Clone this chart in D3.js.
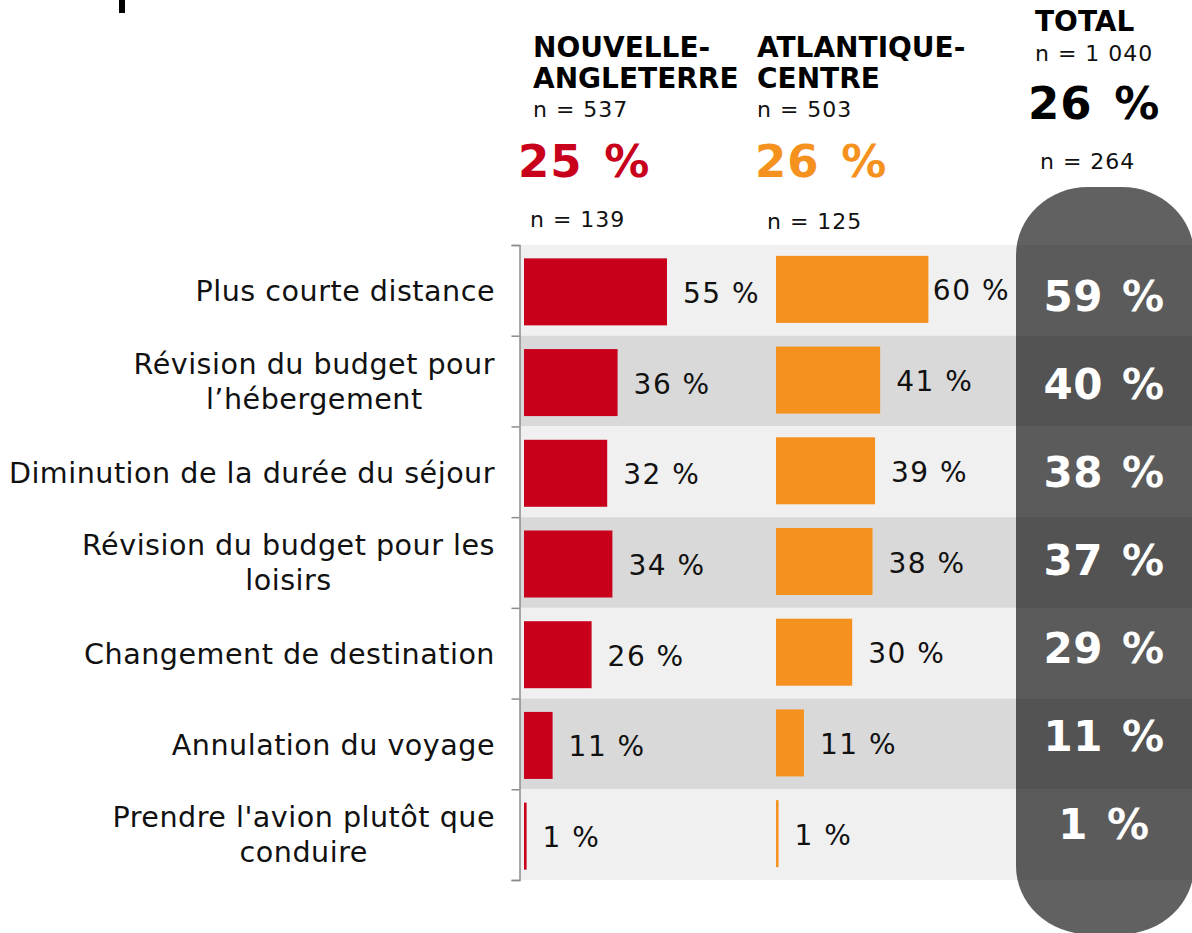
<!DOCTYPE html>
<html lang="fr">
<head>
<meta charset="utf-8">
<script src="https://cdn.jsdelivr.net/npm/d3@7"></script>
<style>
  html, body { margin: 0; padding: 0; background: #ffffff; }
  svg { display: block; font-family: "DejaVu Sans", Verdana, sans-serif; }
</style>
</head>
<body>
<svg id="chart" width="1192" height="933"></svg>
<script>
// Motifs de changement des plans de voyage, par région
const categories = [
  ["Plus courte distance"],
  ["Révision du budget pour", "l’hébergement"],
  ["Diminution de la durée du séjour"],
  ["Révision du budget pour les", "loisirs"],
  ["Changement de destination"],
  ["Annulation du voyage"],
  ["Prendre l'avion plutôt que", "conduire"]
];
const nouvelleAngleterre = [55, 36, 32, 34, 26, 11, 1];
const atlantiqueCentre   = [60, 41, 39, 38, 30, 11, 1];
const total              = [59, 40, 38, 37, 29, 11, 1];

const regions = [
  { title: ["NOUVELLE-", "ANGLETERRE"], n: "n = 537", share: 25, nSub: "n = 139" },
  { title: ["ATLANTIQUE-", "CENTRE"],   n: "n = 503", share: 26, nSub: "n = 125" }
];
const totalHeader = { title: "TOTAL", n: "n = 1 040", share: 26, nSub: "n = 264" };

const RED = "#c8001b", ORANGE = "#f5921f";
const pct = v => v + " %";

// Large percentage: number, then the sign pushed a little further right
function bigPct(sel, v, gap) {
  sel.append("tspan").text(v);
  sel.append("tspan").attr("dx", gap).text(" %");
}

const svg = d3.select("#chart");
const keys = categories.map((c, i) => i);

// Scales
const y = d3.scaleBand().domain(keys).range([245, 880]);
const yTotal = d3.scaleBand().domain(keys).range([251.5, 868]);
const yAxisScale = d3.scaleLinear().domain([0, keys.length]).range([245, 880]);
const xNE = d3.scaleLinear().domain([0, 100]).range([524, 784]);
const xAC = d3.scaleLinear().domain([0, 100]).range([776, 1030]);
const barH = 67;
const pillX = 1016;

// Alternating row bands
svg.append("g").selectAll("rect").data(keys).join("rect")
  .attr("x", 520).attr("width", 1192 - 520)
  .attr("y", d => y(d)).attr("height", y.bandwidth())
  .attr("fill", d => d % 2 === 0 ? "#f0f0f0" : "#d9d9d9");

// Category axis with ticks at band boundaries
const axis = svg.append("g").attr("transform", "translate(519.5,0)")
  .call(d3.axisLeft(yAxisScale).tickValues(d3.range(keys.length + 1))
    .tickSize(8).tickSizeOuter(8).tickFormat(""));
axis.selectAll("path, line").attr("stroke", "#8c8c8c").attr("stroke-width", 1.5);

// Category labels (multi-line labels centred on their widest line)
const labels = svg.append("g").attr("font-size", 28.6).attr("fill", "#111")
  .attr("letter-spacing", 0.5);
categories.forEach((lines, i) => {
  const cy = y(i) + y.bandwidth() / 2;
  const lh = 35;
  const t = labels.append("text");
  lines.forEach((ln, j) => {
    t.append("tspan").text(ln)
      .attr("y", cy + (lines.length === 1 ? 11 : 10) + (j - (lines.length - 1) / 2) * lh);
  });
  const widths = [];
  t.selectAll("tspan").each(function () { widths.push(this.getComputedTextLength()); });
  const maxW = d3.max(widths);
  if (lines.length === 1) {
    t.attr("text-anchor", "end").selectAll("tspan").attr("x", 495);
  } else {
    t.attr("text-anchor", "middle").selectAll("tspan").attr("x", 495 - maxW / 2);
  }
});

// Bars with value labels (labels kept clear of the total column)
function drawSeries(values, x, color, dy, labelDy) {
  const g = svg.append("g");
  g.selectAll("rect").data(values).join("rect")
    .attr("x", x(0))
    .attr("y", (d, i) => y(i) + (y.bandwidth() - barH) / 2 + dy)
    .attr("width", d => x(d) - x(0))
    .attr("height", barH)
    .attr("fill", color);
  g.selectAll("text").data(values).join("text")
    .attr("y", (d, i) => y(i) + y.bandwidth() / 2 + labelDy)
    .attr("font-size", 28).attr("letter-spacing", 1.5).attr("fill", "#111")
    .text(d => pct(d))
    .attr("x", function (d) {
      const w = this.getComputedTextLength();
      return Math.min(x(d) + 16, pillX - 6 - w);
    });
}
drawSeries(nouvelleAngleterre, xNE, RED, 1.5, 12.5);
drawSeries(atlantiqueCentre, xAC, ORANGE, -1, 10);

// Total column
svg.append("rect")
  .attr("x", pillX).attr("y", 187).attr("width", 178).attr("height", 747)
  .attr("rx", 72).attr("ry", 68)
  .attr("fill", "#000").attr("fill-opacity", 0.62);
svg.append("g").selectAll("text").data(total).join("text")
  .attr("x", 1104)
  .attr("y", (d, i) => yTotal(i) + yTotal.bandwidth() / 2 + 15)
  .attr("text-anchor", "middle")
  .attr("font-size", 42).attr("font-weight", "bold").attr("letter-spacing", 0.5)
  .attr("fill", "#fff")
  .each(function (d) { bigPct(d3.select(this), d, 4); });

// Region headers
const headerX = [533, 757];
const shareX = [518, 755];
const subX = [530, 767];
const colors = [RED, ORANGE];
regions.forEach((r, i) => {
  const g = svg.append("g");
  r.title.forEach((t, j) => {
    g.append("text").attr("x", headerX[i]).attr("y", 57 + j * 31)
      .attr("font-size", 28).attr("font-weight", "bold")
      .attr("fill", "#000").text(t);
  });
  g.append("text").attr("x", headerX[i]).attr("y", 117)
    .attr("font-size", 22).attr("letter-spacing", 1).attr("fill", "#111").text(r.n);
  g.append("text").attr("x", shareX[i]).attr("y", 177)
    .attr("font-size", 45).attr("font-weight", "bold").attr("letter-spacing", 1)
    .attr("fill", colors[i])
    .call(s => bigPct(s, r.share, 5));
  g.append("text").attr("x", subX[i]).attr("y", 227 + i * 2)
    .attr("font-size", 22).attr("letter-spacing", 1).attr("fill", "#111").text(r.nSub);
});

const th = svg.append("g");
th.append("text").attr("x", 1035).attr("y", 31)
  .attr("font-size", 28).attr("font-weight", "bold")
  .attr("fill", "#000").text(totalHeader.title);
th.append("text").attr("x", 1035).attr("y", 61)
  .attr("font-size", 22).attr("letter-spacing", 1).attr("fill", "#111").text(totalHeader.n);
th.append("text").attr("x", 1028).attr("y", 119)
  .attr("font-size", 45).attr("font-weight", "bold").attr("letter-spacing", 1)
  .attr("fill", "#000")
  .call(s => bigPct(s, totalHeader.share, 5));
th.append("text").attr("x", 1040).attr("y", 169)
  .attr("font-size", 22).attr("letter-spacing", 1).attr("fill", "#111").text(totalHeader.nSub);

// Fragment of the heading stroke at the top edge
svg.append("rect").attr("x", 119).attr("y", 0).attr("width", 6).attr("height", 13).attr("fill", "#000");
</script>
</body>
</html>
